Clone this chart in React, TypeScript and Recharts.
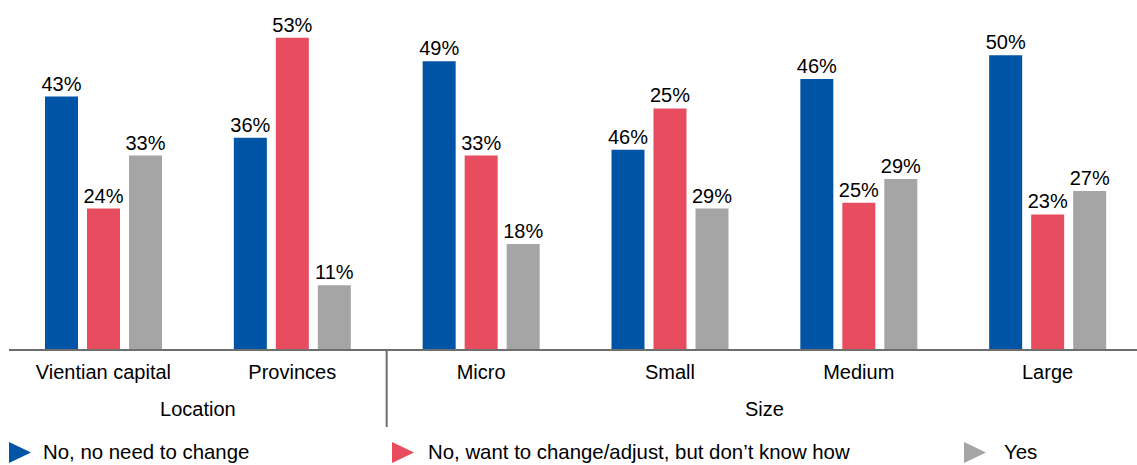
import React from 'react';
import { BarChart, Bar, XAxis, YAxis, Legend, LabelList } from 'recharts';

const categories = ['Vientian capital', 'Provinces', 'Micro', 'Small', 'Medium', 'Large'];

// bar heights as drawn
const noNeedValues = [43, 36, 49, 34, 46, 50];
const wantChangeValues = [24, 53, 33, 41, 25, 23];
const yesValues = [33, 11, 18, 24, 29, 27];

// data labels as printed
const noNeedLabels = ['43%', '36%', '49%', '46%', '46%', '50%'];
const wantChangeLabels = ['24%', '53%', '33%', '25%', '25%', '23%'];
const yesLabels = ['33%', '11%', '18%', '29%', '29%', '27%'];

const groupNames = ['Location', 'Size'];
const groupStarts = [0, 2];
const groupEnds = [1, 5];

const seriesNames = ['No, no need to change', 'No, want to change/adjust, but don\u2019t know how', 'Yes'];
const seriesColors = ['#0054A6', '#E84D5F', '#A5A5A5'];

const data = categories.map((name, i) => ({
  name,
  noNeed: noNeedValues[i],
  noNeedLabel: noNeedLabels[i],
  wantChange: wantChangeValues[i],
  wantChangeLabel: wantChangeLabels[i],
  yes: yesValues[i],
  yesLabel: yesLabels[i],
}));

const FONT = '"Liberation Sans", Arial, Helvetica, sans-serif';
const AXIS_COLOR = '#6e6e6e';

const CategoryTick = (props: any) => {
  const { x, y, payload, index } = props;
  const off = payload?.offset ?? 0;
  const sep = groupStarts.some((s) => s === index && s > 0);
  return (
    <g>
      <text x={x} y={y} dy={29} textAnchor="middle" fontSize={20} fill="#000" fontFamily={FONT}>
        {payload.value}
      </text>
      {sep && <line x1={x - off} x2={x - off} y1={y} y2={y + 40} stroke={AXIS_COLOR} strokeWidth={2} />}
    </g>
  );
};

const GroupTick = (props: any) => {
  const { x, y, payload, index } = props;
  const off = payload?.offset ?? 0;
  const gi = groupStarts.indexOf(index);
  if (gi < 0) return <g />;
  const span = groupEnds[gi] - groupStarts[gi] + 1;
  const cx = x - off + span * off;
  return (
    <g>
      <text x={cx} y={y} dy={26} textAnchor="middle" fontSize={20} fill="#000" fontFamily={FONT}>
        {groupNames[gi]}
      </text>
      {groupStarts[gi] > 0 && (
        <line x1={x - off} x2={x - off} y1={y} y2={y + 37} stroke={AXIS_COLOR} strokeWidth={2} />
      )}
    </g>
  );
};

const legendWidths = [383, 572, 170];
const legendGaps = [12, 14, 18];

const renderLegend = () => (
  <div
    style={{
      display: 'flex',
      boxSizing: 'border-box',
      height: 35,
      paddingLeft: 9,
      paddingTop: 12,
      fontFamily: FONT,
      fontSize: 20.4,
      color: '#000',
    }}
  >
    {seriesNames.map((label, i) => (
      <div key={label} style={{ width: legendWidths[i], display: 'flex', alignItems: 'center', height: 21 }}>
        <svg width={22} height={21} style={{ display: 'block' }}>
          <polygon points="0,0 22,10.5 0,21" fill={seriesColors[i]} />
        </svg>
        <span style={{ marginLeft: legendGaps[i], lineHeight: '21px', whiteSpace: 'nowrap' }}>{label}</span>
      </div>
    ))}
  </div>
);

export default function App() {
  return (
    <div style={{ position: 'absolute', left: 0, top: 0, width: 1137, height: 465, overflow: 'hidden', background: '#fff', fontFamily: FONT }}>
      <BarChart
        width={1142}
        height={465}
        data={data}
        margin={{ top: 20, right: 0, bottom: 0, left: 9 }}
        barSize={33}
        barGap={9}
      >
        <XAxis
          xAxisId={0}
          dataKey="name"
          interval={0}
          height={40}
          tickSize={0}
          tickMargin={0}
          tickLine={false}
          axisLine={{ stroke: AXIS_COLOR, strokeWidth: 2 }}
          tick={<CategoryTick />}
        />
        <XAxis
          xAxisId="grp"
          dataKey="name"
          interval={0}
          height={40}
          tickSize={0}
          tickMargin={0}
          tickLine={false}
          axisLine={false}
          tick={<GroupTick />}
        />
        <YAxis hide domain={[0, 56]} />
        <Legend
          verticalAlign="bottom"
          content={renderLegend}
          wrapperStyle={{ left: 0, bottom: 0, width: 1137, height: 35 }}
        />
        <Bar xAxisId={0} dataKey="noNeed" name={seriesNames[0]} fill={seriesColors[0]} isAnimationActive={false}>
          <LabelList dataKey="noNeedLabel" position="top" offset={6} fontSize={20} fill="#000" fontFamily={FONT} />
        </Bar>
        <Bar xAxisId={0} dataKey="wantChange" name={seriesNames[1]} fill={seriesColors[1]} isAnimationActive={false}>
          <LabelList dataKey="wantChangeLabel" position="top" offset={6} fontSize={20} fill="#000" fontFamily={FONT} />
        </Bar>
        <Bar xAxisId={0} dataKey="yes" name={seriesNames[2]} fill={seriesColors[2]} isAnimationActive={false}>
          <LabelList dataKey="yesLabel" position="top" offset={6} fontSize={20} fill="#000" fontFamily={FONT} />
        </Bar>
      </BarChart>
    </div>
  );
}
